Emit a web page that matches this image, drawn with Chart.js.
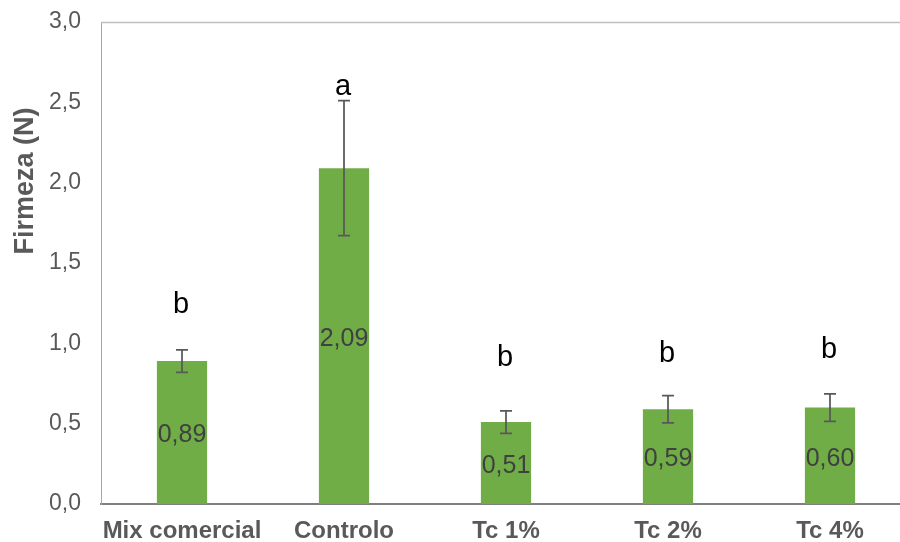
<!DOCTYPE html>
<html>
<head>
<meta charset="utf-8">
<script src="https://cdn.jsdelivr.net/npm/chart.js@4/dist/chart.umd.min.js"></script>
<style>
html, body { margin: 0; padding: 0; background: #fff; overflow: hidden; width: 900px; height: 542px; }
#wrap { position: absolute; left: 0; top: 0; width: 912px; height: 542px; }
</style>
</head>
<body>
<div id="wrap"><canvas id="c"></canvas></div>
<script>
const categories = ["Mix comercial", "Controlo", "Tc 1%", "Tc 2%", "Tc 4%"];
const values = [0.89, 2.09, 0.51, 0.59, 0.60];
const errors = [0.07, 0.42, 0.07, 0.085, 0.085];
const letters = ["b", "a", "b", "b", "b"];
const letterY = [1.187, 2.546, 0.859, 0.886, 0.907];
const yTicks = [0, 0.5, 1.0, 1.5, 2.0, 2.5, 3.0];
const yTitle = "Firmeza (N)";

const FONT = "'Liberation Sans', Arial, sans-serif";
const fmt = (v, d) => v.toFixed(d).replace('.', ',');

const overlay = {
  id: 'overlay',
  afterDatasetsDraw(chart) {
    const ctx = chart.ctx;
    const y = chart.scales.y;
    const meta = chart.getDatasetMeta(0);
    const area = chart.chartArea;
    ctx.save();
    ctx.strokeStyle = '#BFBFBF';
    ctx.lineWidth = 1.5;
    ctx.beginPath();
    ctx.moveTo(area.left, area.top + 0.5);
    ctx.lineTo(area.right, area.top + 0.5);
    ctx.stroke();
    meta.data.forEach((bar, i) => {
      const x = bar.x;
      ctx.fillStyle = '#404040';
      ctx.font = '25px ' + FONT;
      ctx.textAlign = 'center';
      ctx.textBaseline = 'middle';
      const mid = (y.getPixelForValue(values[i]) + y.getPixelForValue(0)) / 2;
      ctx.fillText(fmt(values[i], 2), x, mid + 3);
      const top = y.getPixelForValue(values[i] + errors[i]);
      const bot = y.getPixelForValue(values[i] - errors[i]);
      ctx.strokeStyle = '#595959';
      ctx.lineWidth = 1.75;
      ctx.beginPath();
      ctx.moveTo(x, top); ctx.lineTo(x, bot);
      ctx.moveTo(x - 6, top); ctx.lineTo(x + 6, top);
      ctx.moveTo(x - 6, bot); ctx.lineTo(x + 6, bot);
      ctx.stroke();
      ctx.fillStyle = '#000000';
      ctx.font = '29px ' + FONT;
      ctx.textBaseline = 'alphabetic';
      ctx.fillText(letters[i], x - 1, y.getPixelForValue(letterY[i]));
    });
    ctx.translate(26, 181);
    ctx.rotate(-Math.PI / 2);
    ctx.fillStyle = '#595959';
    ctx.font = 'bold 27px ' + FONT;
    ctx.textAlign = 'center';
    ctx.textBaseline = 'middle';
    ctx.fillText(yTitle, 0, 0);
    ctx.restore();
  }
};

new Chart(document.getElementById('c'), {
  type: 'bar',
  data: {
    labels: categories,
    datasets: [{
      data: values,
      backgroundColor: '#70AD47',
      borderWidth: 0,
      barPercentage: 0.31,
      categoryPercentage: 1.0
    }]
  },
  options: {
    responsive: true,
    maintainAspectRatio: false,
    animation: false,
    layout: { padding: { left: 0, top: 0, right: 1, bottom: 0 } },
    plugins: { legend: { display: false }, tooltip: { enabled: false } },
    scales: {
      x: {
        grid: { display: false, drawTicks: false },
        border: { display: true, color: '#7F7F7F', width: 2 },
        ticks: { color: '#595959', font: { family: FONT, size: 24, weight: 'bold' }, padding: 13, maxRotation: 0, autoSkip: false },
        afterFit(s) { s.height = 38; }
      },
      y: {
        min: 0, max: 3,
        grid: { display: false, drawTicks: false },
        border: { display: true, color: '#A6A6A6', width: 1 },
        afterBuildTicks(s) { s.ticks = yTicks.map(v => ({ value: v })); },
        ticks: {
          color: '#595959',
          font: { family: FONT, size: 23 },
          padding: 20,
          callback: (v) => fmt(Number(v), 1)
        },
        afterFit(s) { s.width = 101; s.paddingTop = 22; }
      }
    }
  },
  plugins: [overlay]
});
</script>
</body>
</html>
